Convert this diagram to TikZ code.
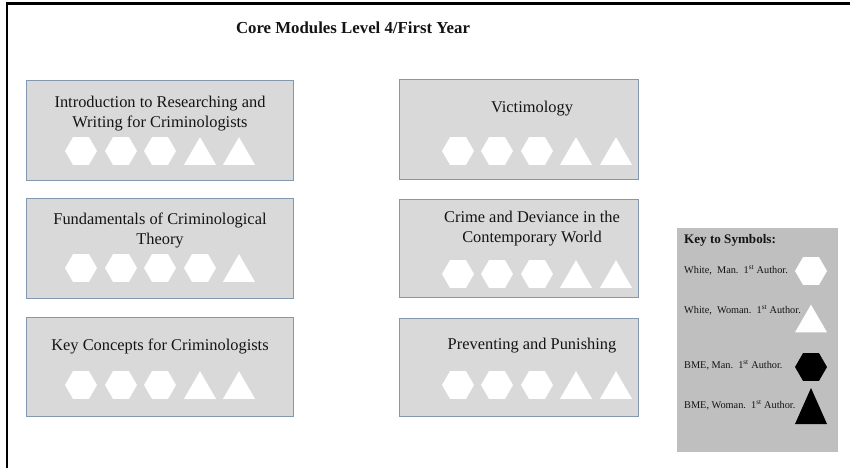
\documentclass[tikz,border=0pt]{standalone}
\usepackage{fontspec}
\setmainfont{Liberation Serif}
\definecolor{boxfill}{RGB}{217,217,217}
\definecolor{boxline}{RGB}{132,151,176}
\definecolor{keyfill}{RGB}{191,191,191}
\definecolor{txt}{RGB}{20,20,20}
\tikzset{
  modbox/.style={draw=boxline, line width=0.9pt, fill=boxfill},
  modtext/.style={font=\fontsize{16.4}{20}\selectfont, text=txt, align=center, inner sep=0pt},
  keytext/.style={font=\fontsize{10.3}{12}\selectfont, text=txt, anchor=west, inner sep=0pt},
  hexw/.pic={\fill[white] (-16,0) -- (-8,-13.85) -- (8,-13.85) -- (16,0) -- (8,13.85) -- (-8,13.85) -- cycle;},
  hexb/.pic={\fill[black] (-16,0) -- (-8,-13.85) -- (8,-13.85) -- (16,0) -- (8,13.85) -- (-8,13.85) -- cycle;},
  triw/.pic={\fill[white] (-16,13.85) -- (0,-13.85) -- (16,13.85) -- cycle;},
}
\begin{document}
\begin{tikzpicture}[x=1pt,y=-1pt]
\useasboundingbox (0,0) rectangle (850,467);
% frame
\draw[line width=2.6pt, line cap=rect] (7,467) -- (7,3.5) -- (850,3.5);
% title
\node[font=\fontsize{16.8}{20}\selectfont\bfseries, text=txt, inner sep=0pt] (title) at (353,28) {Core Modules Level 4/First Year};
% module boxes
\path[modbox] (26,80) rectangle (293,180);
\path[modbox] (26,198) rectangle (293,298);
\path[modbox] (26,317) rectangle (293,416);
\path[modbox] (399,79) rectangle (638,179);
\path[modbox] (399,199) rectangle (638,297);
\path[modbox] (399,318) rectangle (638,416);
% texts
\node[modtext] (t1) at (160,114) {Introduction to Researching and\\Writing for Criminologists};
\node[modtext] (t2) at (160,230) {Fundamentals of Criminological\\Theory};
\node[modtext] (t3) at (160,346) {Key Concepts for Criminologists};
\node[modtext] (t4) at (532,109) {Victimology};
\node[modtext] (t5) at (532,229) {Crime and Deviance in the\\Contemporary World};
\node[modtext] (t6) at (532,346) {Preventing and Punishing};
% symbols row 1 left
\pic at (81,151) {hexw}; \pic at (121,151) {hexw}; \pic at (160,151) {hexw};
\pic at (200,151) {triw}; \pic at (239,151) {triw};
% row 2 left
\pic at (81,268) {hexw}; \pic at (121,268) {hexw}; \pic at (160,268) {hexw};
\pic at (200,268) {hexw}; \pic at (239,268) {triw};
% row 3 left
\pic at (81,385) {hexw}; \pic at (121,385) {hexw}; \pic at (160,385) {hexw};
\pic at (200,385) {triw}; \pic at (239,385) {triw};
% right column
\foreach \yy in {151,274,385}{
  \pic at (458,\yy) {hexw}; \pic at (497,\yy) {hexw}; \pic at (537,\yy) {hexw};
  \pic at (576,\yy) {triw}; \pic at (616,\yy) {triw};
}
% key
\path[fill=keyfill] (677,228) rectangle (838,452);
\node[keytext, font=\fontsize{13.1}{15}\selectfont\bfseries] (k0) at (684,240) {Key to Symbols:};
\node[keytext] (k1) at (684,270) {White,\ \ Man.\ \ 1\textsuperscript{st} Author.};
\node[keytext] (k2) at (684,310) {White,\ \ Woman.\ \ 1\textsuperscript{st} Author.};
\node[keytext] (k3) at (684,365) {BME,\ Man.\ \ 1\textsuperscript{st} Author.};
\node[keytext] (k4) at (684,405) {BME,\ Woman.\ \ 1\textsuperscript{st} Author.};
\pic at (811,271) {hexw};
\pic at (811,318.5) {triw};
\pic at (811,367) {hexb};
\fill[black] (795,424) -- (811,388) -- (827,424) -- cycle;
\end{tikzpicture}
\end{document}
